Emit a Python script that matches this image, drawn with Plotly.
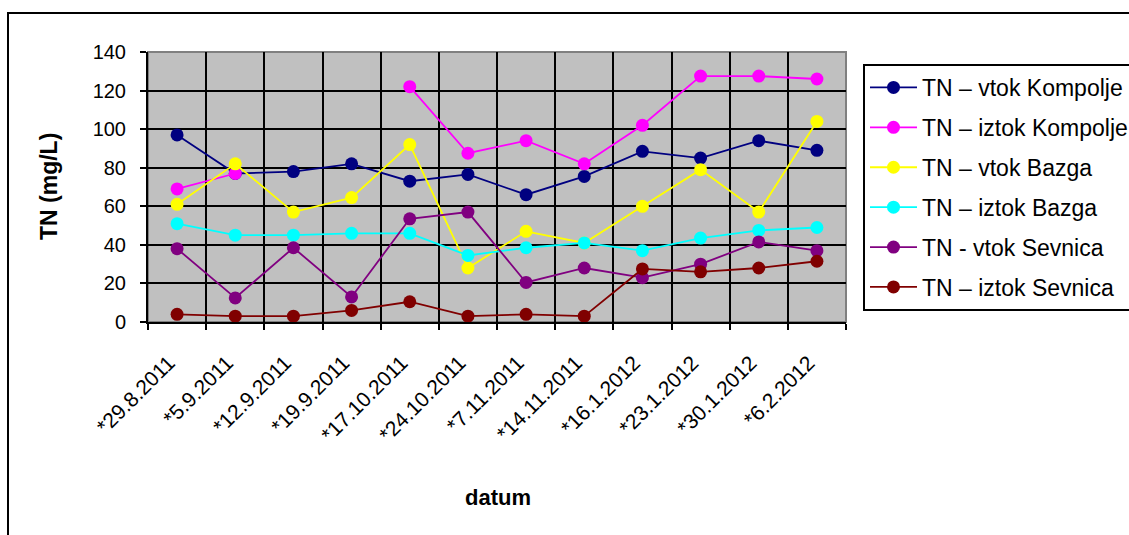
import plotly.graph_objects as go

dates = ["*29.8.2011", "*5.9.2011", "*12.9.2011", "*19.9.2011", "*17.10.2011", "*24.10.2011",
         "*7.11.2011", "*14.11.2011", "*16.1.2012", "*23.1.2012", "*30.1.2012", "*6.2.2012"]

vtok_kompolje = [97, 77, 78, 82, 73, 76.5, 66, 75.5, 88.5, 85, 94, 89]
iztok_kompolje = [69, 77, None, None, 122, 87.5, 94, 82, 102, 127.5, 127.5, 126]
vtok_bazga = [61, 82, 57, 64.5, 92, 28, 47, 41, 60, 79, 57, 104]
iztok_bazga = [51, 45, 45, 46, 46, 34.5, 38.5, 41, 37, 43.5, 47.5, 49]
vtok_sevnica = [38, 12.5, 38.5, 13, 53.5, 57, 20.5, 28, 23, 30, 41.5, 37]
iztok_sevnica = [4, 3, 3, 6, 10.5, 3, 4, 3, 27.5, 26, 28, 31.5]

series_names = ["TN – vtok Kompolje", "TN – iztok Kompolje", "TN – vtok Bazga",
                "TN – iztok Bazga", "TN - vtok Sevnica", "TN – iztok Sevnica"]
series_values = [vtok_kompolje, iztok_kompolje, vtok_bazga, iztok_bazga, vtok_sevnica, iztok_sevnica]
colors = ["#000080", "#FF00FF", "#FFFF00", "#00FFFF", "#800080", "#800000"]

FONT = "Liberation Sans, Arial, sans-serif"

fig = go.Figure()
for name, vals, col in zip(series_names, series_values, colors):
    fig.add_trace(go.Scatter(
        x=dates, y=vals, name=name, mode="lines+markers",
        line=dict(color=col, width=1.8),
        marker=dict(color=col, size=13, symbol="circle"),
        legendgroup=name,
    ))

W, H = 1129, 535
L, R, T, B = 148, W - 846, 52, H - 322
pw, ph = 846 - 148, 322 - 52

def px(x):
    return (x - L) / pw

def py(y):
    return (322 - y) / ph

fig.update_layout(
    width=W, height=H,
    margin=dict(l=L, r=R, t=T, b=B, autoexpand=False),
    paper_bgcolor="white",
    plot_bgcolor="#C0C0C0",
    font=dict(family=FONT, size=20, color="black"),
    showlegend=True,
    legend=dict(
        x=px(863), y=py(64), xanchor="left", yanchor="top",
        bgcolor="white", bordercolor="black", borderwidth=2,
        font=dict(family=FONT, size=23, color="black"),
        tracegroupgap=7,
        itemwidth=47,
    ),
    xaxis=dict(
        type="category", range=[-0.5, 11.5],
        tickson="boundaries",
        tickmode="array", tickvals=dates,
        ticktext=[d + "\u00a0\u00a0" for d in dates],
        showgrid=True, gridcolor="black", gridwidth=1.5,
        ticks="outside", ticklen=6, tickcolor="black", tickwidth=1.5,
        showline=True, linecolor="black", linewidth=2,
        tickangle=-45, tickfont=dict(size=21),
        ticklabelstandoff=10,
    ),
    yaxis=dict(
        range=[0, 140], dtick=20, tick0=0,
        showgrid=True, gridcolor="black", gridwidth=1.5,
        ticks="outside", ticklen=6, tickcolor="black", tickwidth=1.5,
        showline=True, linecolor="black", linewidth=2,
        zeroline=False,
        tickfont=dict(size=20),
        ticklabelstandoff=10,
    ),
    shapes=[
        dict(type="rect", xref="paper", yref="paper",
             x0=px(8), x1=px(1140), y0=py(545), y1=py(13),
             line=dict(color="black", width=2), fillcolor="rgba(0,0,0,0)", layer="below"),
        dict(type="rect", xref="paper", yref="paper",
             x0=0, x1=1, y0=0, y1=1,
             line=dict(color="#808080", width=2), fillcolor="rgba(0,0,0,0)", layer="below"),
    ],
    annotations=[
        dict(text="<b>TN (mg/L)</b>", xref="paper", yref="paper", x=px(49), y=py(187),
             textangle=-90, showarrow=False, font=dict(size=23, family=FONT),
             xanchor="center", yanchor="middle"),
        dict(text="<b>datum</b>", xref="paper", yref="paper", x=px(498), y=py(497),
             showarrow=False, font=dict(size=22, family=FONT),
             xanchor="center", yanchor="middle"),
    ],
)

fig.write_html("out.html")
